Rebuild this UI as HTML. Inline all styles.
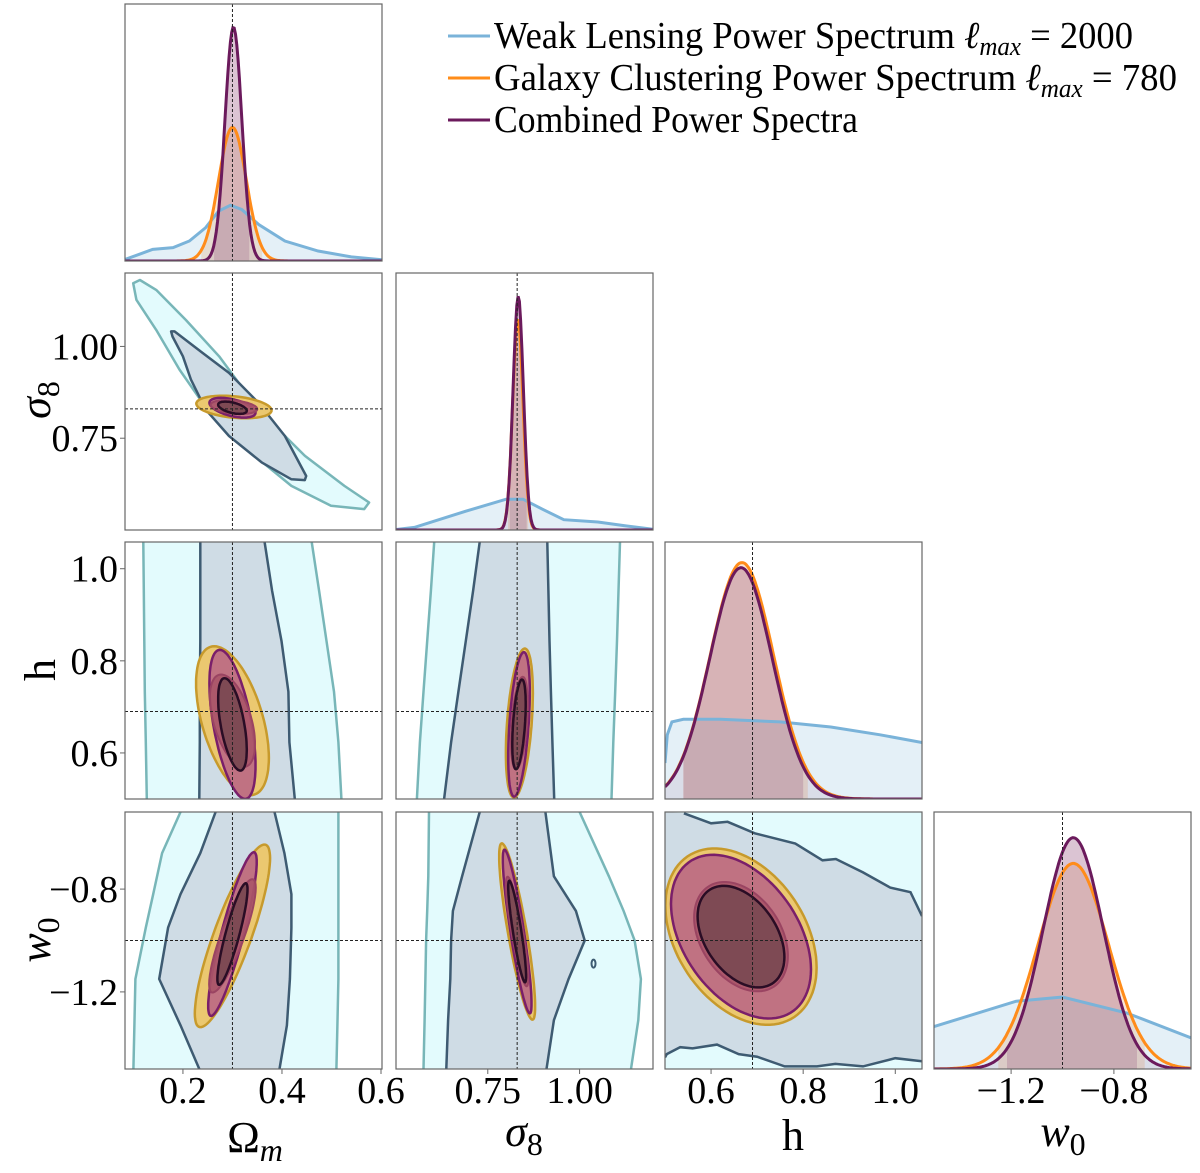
<!DOCTYPE html>
<html><head><meta charset="utf-8"><style>
html,body{margin:0;padding:0;background:#fff;}
svg{display:block;}
text{font-family:"Liberation Serif","DejaVu Serif",serif;}
</style></head><body>
<svg id="chart" width="1200" height="1173" viewBox="0 0 1200 1173" xmlns="http://www.w3.org/2000/svg" font-family="Liberation Serif, serif">
<defs id="defs"></defs>
<g id="panels"></g>
<g id="legend">
  <line x1="448" y1="36" x2="490" y2="36" stroke="#7ab3d9" stroke-width="3"/>
  <text x="494" y="48" font-size="38" font-family="Liberation Serif, serif" textLength="639" lengthAdjust="spacingAndGlyphs">Weak Lensing Power Spectrum <tspan font-style="italic">ℓ</tspan><tspan font-style="italic" font-size="26" dy="7">max</tspan><tspan dy="-7"> = 2000</tspan></text>
  <line x1="448" y1="78" x2="490" y2="78" stroke="#ff8c1a" stroke-width="3"/>
  <text x="494" y="90" font-size="38" font-family="Liberation Serif, serif" textLength="683" lengthAdjust="spacingAndGlyphs">Galaxy Clustering Power Spectrum <tspan font-style="italic">ℓ</tspan><tspan font-style="italic" font-size="26" dy="7">max</tspan><tspan dy="-7"> = 780</tspan></text>
  <line x1="448" y1="120" x2="490" y2="120" stroke="#6b1a5c" stroke-width="3"/>
  <text x="494" y="132" font-size="38" font-family="Liberation Serif, serif" textLength="364" lengthAdjust="spacingAndGlyphs">Combined Power Spectra</text>
</g>
<g id="axis-labels" font-size="44" font-family="Liberation Serif, serif">
  <text x="255" y="1152" text-anchor="middle">Ω<tspan font-style="italic" font-size="32" dy="9">m</tspan></text>
  <text x="524" y="1146" text-anchor="middle" font-style="italic">σ<tspan font-style="normal" font-size="32" dy="9">8</tspan></text>
  <text x="793" y="1150" text-anchor="middle">h</text>
  <text x="1063" y="1146" text-anchor="middle" font-style="italic">w<tspan font-style="normal" font-size="32" dy="9">0</tspan></text>
  <text transform="translate(50,400) rotate(-90)" text-anchor="middle" font-style="italic">σ<tspan font-style="normal" font-size="32" dy="9">8</tspan></text>
  <text transform="translate(55,670) rotate(-90)" text-anchor="middle">h</text>
  <text transform="translate(50,940) rotate(-90)" text-anchor="middle" font-style="italic">w<tspan font-style="normal" font-size="32" dy="9">0</tspan></text>
</g>
</svg>
<script>
// ---- data ----
const paramNames = ["omega-m","sigma8","h","w0"];
const ranges = [[0.083,0.602],[0.5,1.2],[0.5,1.058],[-1.5,-0.5]];
const truths = [0.30, 0.83, 0.69, -1.0];
const xTicks = [[0.2,0.4,0.6],[0.75,1.00],[0.6,0.8,1.0],[-1.2,-0.8]];
const xTickLabels = [["0.2","0.4","0.6"],["0.75","1.00"],["0.6","0.8","1.0"],["−1.2","−0.8"]];
const yTicks = [[],[0.75,1.00],[0.6,0.8,1.0],[-1.2,-0.8]];
const yTickLabels = [[],["0.75","1.00"],["0.6","0.8","1.0"],["−1.2","−0.8"]];

const galMean = [0.300, 0.832, 0.667, -0.958];
const galSig  = [0.028, 0.014, 0.069, 0.137];
const galPeak = [0.52, 0.82, 0.92, 0.80];
const galLo   = [0.237, 0.805, 0.54, -1.25];
const galHi   = [0.360, 0.860, 0.81, -0.68];
const combMean = [0.302, 0.833, 0.665, -0.958];
const combSig  = [0.017, 0.014, 0.068, 0.117];
const combPeak = [0.91, 0.91, 0.90, 0.90];
const combLo   = [0.263, 0.810, 0.54, -1.216];
const combHi   = [0.334, 0.856, 0.80, -0.71];
const wlX = [
 [0.083,0.139,0.18,0.213,0.246,0.272,0.296,0.319,0.353,0.406,0.473,0.54,0.602],
 [0.5,0.55,0.69,0.80,0.846,0.9,0.957,1.05,1.126,1.2],
 [0.5,0.505,0.515,0.54,0.62,0.75,0.86,0.967,1.058],
 [-1.5,-1.18,-1.0,-0.75,-0.5]];
const wlY = [
 [0.006,0.045,0.052,0.078,0.13,0.194,0.217,0.2,0.142,0.078,0.039,0.016,0.005],
 [0.002,0.01,0.073,0.12,0.12,0.08,0.04,0.031,0.016,0.003],
 [0.14,0.25,0.30,0.31,0.31,0.30,0.28,0.25,0.22],
 [0.165,0.264,0.28,0.218,0.121]];

const pairs = [[0,1],[0,2],[1,2],[0,3],[1,3],[2,3]];
const galCx = [0.303,0.300,0.836,0.300,0.830,0.665];
const galCy = [0.835,0.670,0.665,-0.982,-0.965,-0.985];
const galSx = [0.031,0.030,0.015,0.031,0.020,0.067];
const galSy = [0.0125,0.066,0.066,0.145,0.140,0.140];
const galRho = [-0.3,-0.5,0.4,0.85,-0.85,-0.35];
const combCx = [0.300,0.300,0.835,0.300,0.830,0.665];
const combCy = [0.833,0.662,0.662,-0.975,-0.965,-0.985];
const combSx = [0.019,0.019,0.012,0.020,0.016,0.062];
const combSy = [0.011,0.066,0.064,0.130,0.130,0.130];
const combRho = [-0.5,-0.55,0.45,0.88,-0.88,-0.4];

const wlOuterOmS8 = [[0.0995,1.172],[0.113,1.181],[0.146,1.154],[0.206,1.072],[0.273,0.973],[0.313,0.900],[0.366,0.810],[0.446,0.702],[0.526,0.620],[0.576,0.575],[0.566,0.557],[0.499,0.566],[0.419,0.620],[0.353,0.693],[0.293,0.774],[0.240,0.846],[0.193,0.937],[0.146,1.045],[0.106,1.127]];
const wlInnerOmS8 = [[0.176,1.041],[0.183,1.041],[0.240,0.982],[0.293,0.928],[0.353,0.846],[0.406,0.756],[0.449,0.647],[0.446,0.636],[0.419,0.638],[0.359,0.684],[0.293,0.756],[0.246,0.828],[0.216,0.910],[0.200,0.973],[0.179,1.027]];
const bandY = {
 p1:[0.5,0.623,0.733,0.843,0.952,1.058],
 p2:[0.5,0.623,0.733,0.843,0.952,1.058],
 p3:[-1.5,-1.33,-1.15,-0.95,-0.82,-0.66,-0.5],
 p4:[-1.5,-1.31,-1.15,-1.0,-0.885,-0.75,-0.5]};
const outerL = {
 p1:[0.127,0.125,0.123,0.122,0.121,0.120],
 p2:[0.557,0.565,0.575,0.585,0.595,0.604],
 p3:[0.100,0.102,0.104,0.125,0.140,0.158,0.195],
 p4:[0.575,0.578,0.580,0.582,0.585,0.588,0.590]};
const outerR = {
 p1:[0.520,0.514,0.505,0.490,0.475,0.460],
 p2:[1.087,1.092,1.097,1.102,1.106,1.110],
 p3:[0.510,0.512,0.514,0.514,0.514,0.514,0.514],
 p4:[1.140,1.160,1.167,1.150,1.120,1.080,1.000]};
const innerL = {
 p1:[0.233,0.234,0.234,0.235,0.235,0.235],
 p2:[0.631,0.650,0.670,0.690,0.710,0.728],
 p3:[0.233,0.195,0.152,0.170,0.195,0.235,0.266],
 p4:[0.637,0.642,0.648,0.650,0.655,0.680,0.728]};
const innerR = {
 p1:[0.426,0.415,0.413,0.399,0.380,0.365],
 p2:[0.931,0.926,0.922,0.918,0.915,0.912],
 p3:[0.395,0.410,0.416,0.419,0.419,0.405,0.385],
 p4:[0.910,0.930,0.970,1.014,0.990,0.930,0.907]};
const bandKeys = ["p1","p2","p3","p4"];
const bandPairIdx = [1,2,3,4];
const hwTopH = [0.5,0.541,0.600,0.636,0.695,0.783,0.842,0.871,0.930,0.989,1.033,1.058];
const hwTopW = [-0.5,-0.505,-0.544,-0.538,-0.583,-0.623,-0.688,-0.683,-0.735,-0.794,-0.812,-0.905];
const hwBotH = [0.5,0.504,0.533,0.560,0.613,0.660,0.700,0.760,0.830,0.870,0.930,1.000,1.058];
const hwBotW = [-1.455,-1.442,-1.415,-1.420,-1.405,-1.442,-1.452,-1.49,-1.49,-1.48,-1.49,-1.458,-1.47];
const islandS8W0 = [1.038,-1.09];

// ---- layout ----
const X0=[125,396,665,934], Y0=[4,273,542,812], W=257, H=257;
const NS="http://www.w3.org/2000/svg";
const panelsG=document.getElementById('panels');
const defs=document.getElementById('defs');
function el(tag,attrs,parent){const e=document.createElementNS(NS,tag);for(const k in attrs)e.setAttribute(k,attrs[k]);(parent||panelsG).appendChild(e);return e;}
function sx(col,v){const r=ranges[col];return X0[col]+(v-r[0])/(r[1]-r[0])*W;}
function sy(row,v){const r=ranges[row];return Y0[row]+H-(v-r[0])/(r[1]-r[0])*H;}
function fy(row,f){return Y0[row]+H-f*H;}
function pathFrom(pts){return pts.map((p,i)=>(i?'L':'M')+p[0].toFixed(1)+','+p[1].toFixed(1)).join('')+'Z';}
function openPath(pts){return pts.map((p,i)=>(i?'L':'M')+p[0].toFixed(1)+','+p[1].toFixed(1)).join('');}
function clipFor(c,r){const id='clip'+c+r;const cp=el('clipPath',{id:id},defs);el('rect',{x:X0[c],y:Y0[r],width:W,height:H},cp);return 'url(#'+id+')';}
const gauss=(x,m,s,p)=>p*Math.exp(-0.5*((x-m)/s)**2);

for(let i=0;i<4;i++){
  const g=el('g',{'clip-path':clipFor(i,i)});
  
  
  const r=ranges[i];
  const wl=wlX[i].map((x,k)=>[sx(i,x),fy(i,wlY[i][k])]);
  const wlFill=el('path',{d:pathFrom([[sx(i,wlX[i][0]),fy(i,0)],...wl,[sx(i,wlX[i][wlX[i].length-1]),fy(i,0)]]),fill:'#7ab3d9','fill-opacity':0.2,stroke:'none'},g);
  
  
  const N=200, gal=[], comb=[], galS=[], combS=[];
  for(let k=0;k<=N;k++){const x=r[0]+(r[1]-r[0])*k/N;
    gal.push([sx(i,x),fy(i,gauss(x,galMean[i],galSig[i],galPeak[i]))]);
    comb.push([sx(i,x),fy(i,gauss(x,combMean[i],combSig[i],combPeak[i]))]);}
  for(let k=0;k<=60;k++){
    const xg=galLo[i]+(galHi[i]-galLo[i])*k/60; galS.push([sx(i,xg),fy(i,gauss(xg,galMean[i],galSig[i],galPeak[i]))]);
    const xc=combLo[i]+(combHi[i]-combLo[i])*k/60; combS.push([sx(i,xc),fy(i,gauss(xc,combMean[i],combSig[i],combPeak[i]))]);}
  const gf=el('path',{d:pathFrom([[sx(i,galLo[i]),fy(i,0)],...galS,[sx(i,galHi[i]),fy(i,0)]]),fill:'#e9a060','fill-opacity':0.25},g);
  
  
  const cf=el('path',{d:pathFrom([[sx(i,combLo[i]),fy(i,0)],...combS,[sx(i,combHi[i]),fy(i,0)]]),fill:'#8a3a6c','fill-opacity':0.22},g);
  
  
  const cfa=el('path',{d:pathFrom([[sx(i,r[0]),fy(i,0)],...comb,[sx(i,r[1]),fy(i,0)]]),fill:'#8a3a6c','fill-opacity':0.1},g);
  
  
  const wlL=el('path',{d:openPath(wl),fill:'none',stroke:'#7ab3d9','stroke-width':3},g);
  
  
  const gl=el('path',{d:openPath(gal),fill:'none',stroke:'#ff8c1a','stroke-width':3},g);
  
  
  const cl=el('path',{d:openPath(comb),fill:'none',stroke:'#6b1a5c','stroke-width':3},g);
  
  
  const tl=el('line',{x1:sx(i,truths[i]),x2:sx(i,truths[i]),y1:Y0[i],y2:Y0[i]+H,stroke:'#222','stroke-width':1,'stroke-dasharray':'3,2'},g);
  
  
}

function ellipse(c,r,cx,cy,sX,sY,rho,k){const pts=[];const q=Math.sqrt(1-rho*rho);
  for(let t=0;t<=96;t++){const a=t/96*2*Math.PI;
    pts.push([sx(c,cx+k*sX*Math.cos(a)),sy(r,cy+k*sY*(rho*Math.cos(a)+q*Math.sin(a)))]);}
  return pathFrom(pts);}
const K95=2.45,K68=1.52;
pairs.forEach((pr,idx)=>{
  const c=pr[0], r=pr[1];
  const g=el('g',{'clip-path':clipFor(c,r)});
  
  
  if(idx===0){
    const o=el('path',{d:pathFrom(wlOuterOmS8.map(p=>[sx(c,p[0]),sy(r,p[1])])),fill:'#e3fbfd',stroke:'#78b6b8','stroke-width':2.5,'stroke-linejoin':'round'},g);
    
    
    const n=el('path',{d:pathFrom(wlInnerOmS8.map(p=>[sx(c,p[0]),sy(r,p[1])])),fill:'#cfdce5',stroke:'#3e5b72','stroke-width':2.5,'stroke-linejoin':'round'},g);
    
    
  } else if(idx===5){
    const bg=el('rect',{x:X0[c],y:Y0[r],width:W,height:H,fill:'#e3fbfd'},g);
    
    
    const top=hwTopH.map((h,k)=>[sx(c,h),sy(r,hwTopW[k])]);
    const bot=hwBotH.map((h,k)=>[sx(c,h),sy(r,hwBotW[k])]);
    const reg=el('path',{d:pathFrom([...top,...bot.slice().reverse()]),fill:'#cfdce5',stroke:'none'},g);
    
    
    el('path',{d:openPath(top.slice(1)),fill:'none',stroke:'#3e5b72','stroke-width':2.5},g);
    el('path',{d:openPath(bot),fill:'none',stroke:'#3e5b72','stroke-width':2.5},g);
  } else {
    const key=bandKeys[bandPairIdx.indexOf(idx)], ys=bandY[key];
    const oL=ys.map((y,k)=>[sx(c,outerL[key][k]),sy(r,y)]), oR=ys.map((y,k)=>[sx(c,outerR[key][k]),sy(r,y)]);
    const iL=ys.map((y,k)=>[sx(c,innerL[key][k]),sy(r,y)]), iR=ys.map((y,k)=>[sx(c,innerR[key][k]),sy(r,y)]);
    const o=el('path',{d:pathFrom([...oL,...oR.slice().reverse()]),fill:'#e3fbfd'},g);
    
    
    el('path',{d:openPath(oL),fill:'none',stroke:'#78b6b8','stroke-width':2.5},g);
    el('path',{d:openPath(oR),fill:'none',stroke:'#78b6b8','stroke-width':2.5},g);
    const n=el('path',{d:pathFrom([...iL,...iR.slice().reverse()]),fill:'#cfdce5'},g);
    
    
    el('path',{d:openPath(iL),fill:'none',stroke:'#3e5b72','stroke-width':2.5},g);
    el('path',{d:openPath(iR),fill:'none',stroke:'#3e5b72','stroke-width':2.5},g);
    if(idx===4){
      const isl=el('ellipse',{cx:sx(c,islandS8W0[0]),cy:sy(r,islandS8W0[1]),rx:2,ry:4,fill:'none',stroke:'#3e5b72','stroke-width':2},g);
      
      
    }
  }
  const g95=el('path',{d:ellipse(c,r,galCx[idx],galCy[idx],galSx[idx],galSy[idx],galRho[idx],K95),fill:'#ebc870',stroke:'#c79a2c','stroke-width':2.5},g);
  
  
  const c95=el('path',{d:ellipse(c,r,combCx[idx],combCy[idx],combSx[idx],combSy[idx],combRho[idx],K95),fill:'#c07282',stroke:'#7a1f6a','stroke-width':2.5},g);
  
  
  const g68=el('path',{d:ellipse(c,r,galCx[idx],galCy[idx],galSx[idx],galSy[idx],galRho[idx],K68),fill:'#aa5568',stroke:'#9a4462','stroke-width':2,'fill-opacity':0.9},g);
  
  
  const c68=el('path',{d:ellipse(c,r,combCx[idx],combCy[idx],combSx[idx],combSy[idx],combRho[idx],K68),fill:'#7e4a54',stroke:'#2a0d25','stroke-width':2.5},g);
  
  
  const tv=el('line',{x1:sx(c,truths[c]),x2:sx(c,truths[c]),y1:Y0[r],y2:Y0[r]+H,stroke:'#222','stroke-width':1,'stroke-dasharray':'3,2'},g);
  
  
  const th=el('line',{x1:X0[c],x2:X0[c]+W,y1:sy(r,truths[r]),y2:sy(r,truths[r]),stroke:'#222','stroke-width':1,'stroke-dasharray':'3,2'},g);
  
  
});

for(let r=0;r<4;r++)for(let c=0;c<=r;c++){
  const f=el('rect',{x:X0[c],y:Y0[r],width:W,height:H,fill:'none',stroke:'#666','stroke-width':1.2});
  
  
}
for(let c=0;c<4;c++){
  xTicks[c].forEach((v,k)=>{
    const x=sx(c,v);
    el('line',{x1:x,x2:x,y1:Y0[3]+H,y2:Y0[3]+H+5,stroke:'#666','stroke-width':1});
    const t=el('text',{x:x,y:1103,'font-size':38,'text-anchor':'middle','font-family':'Liberation Serif, serif'});
    t.textContent=xTickLabels[c][k];
    
    
  });
}
for(let r=1;r<4;r++){
  yTicks[r].forEach((v,k)=>{
    const y=sy(r,v);
    el('line',{x1:X0[0]-5,x2:X0[0],y1:y,y2:y,stroke:'#666','stroke-width':1});
    const t=el('text',{x:118,y:y+13,'font-size':38,'text-anchor':'end','font-family':'Liberation Serif, serif'});
    t.textContent=yTickLabels[r][k];
    
    
  });
}
</script>
</body></html>
